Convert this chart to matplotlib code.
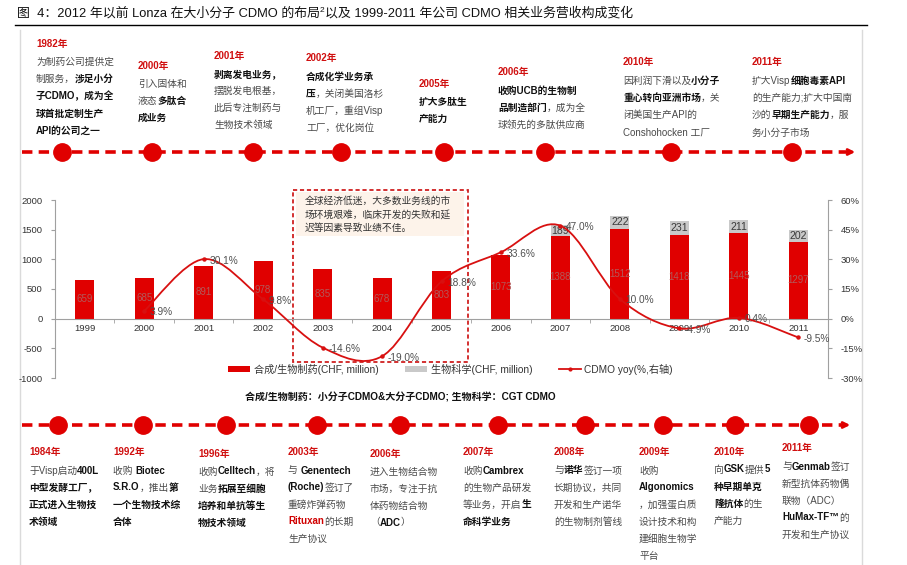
import re
import numpy as np
import matplotlib
matplotlib.use("Agg")
import matplotlib.pyplot as plt
from matplotlib.path import Path
from matplotlib.patches import PathPatch, Patch, Rectangle
from matplotlib.lines import Line2D
from matplotlib.ticker import FuncFormatter

plt.rcParams['font.family'] = ['Liberation Sans', 'Noto Sans CJK SC']
plt.rcParams['lines.scale_dashes'] = False
plt.rcParams['axes.unicode_minus'] = False

# ---------------- data ----------------
years = ['1999', '2000', '2001', '2002', '2003', '2004', '2005',
         '2006', '2007', '2008', '2009', '2010', '2011']
synth_bio = [659, 685, 891, 978, 835, 678, 803, 1073, 1388, 1512, 1418, 1445, 1297]
life_sci = [None, None, None, None, None, None, None, None, 189, 222, 231, 211, 202]
yoy = [None, 3.9, 30.1, 9.8, -14.6, -19.0, 18.8, 33.6, 47.0, 10.0, -4.9, 0.4, -9.5]

left_ticks = [-1000, -500, 0, 500, 1000, 1500, 2000]
right_ticks = [-30, -15, 0, 15, 30, 45, 60]

legend_labels = ['合成/生物制药(CHF, million)', '生物科学(CHF, million)', 'CDMO yoy(%,右轴)']

title_a = '图  4：2012 年以前 Lonza 在大小分子 CDMO 的布局'
title_b = '以及 1999-2011 年公司 CDMO 相关业务营收构成变化'
footnote = '合成/生物制药：小分子CDMO&大分子CDMO; 生物科学：CGT CDMO'
box_text = ['全球经济低迷，大多数业务线的市', '场环境艰难，临床开发的失败和延', '迟等因素导致业绩不佳。']

top_years = ['1982年', '2000年', '2001年', '2002年', '2005年', '2006年', '2010年', '2011年']
top_texts = [
    ['为制药公司提供定', '制服务，**涉足小分**', '**子CDMO，成为全**', '**球首批定制生产**', '**API的公司之一**'],
    ['引入固体和', '液态**多肽合**', '**成业务**'],
    ['**剥离发电业务，**', '摆脱发电根基，', '此后专注制药与', '生物技术领域'],
    ['**合成化学业务承**', '**压**，关闭美国洛杉', '机工厂，重组Visp', '工厂，优化岗位'],
    ['**扩大多肽生**', '**产能力**'],
    ['**收购UCB的生物制**', '**品制造部门**，成为全', '球领先的多肽供应商'],
    ['因利润下滑以及**小分子**', '**重心转向亚洲市场**，关', '闭美国生产API的', 'Conshohocken 工厂'],
    ['扩大Visp**细胞毒素API**', '的生产能力;扩大中国南', '沙的**早期生产能力**，服', '务小分子市场'],
]
bot_years = ['1984年', '1992年', '1996年', '2003年', '2006年', '2007年', '2008年', '2009年', '2010年', '2011年']
bot_texts = [
    ['于Visp启动**400L**', '**中型发酵工厂，**', '**正式进入生物技**', '**术领域**'],
    ['收购 **Biotec**', '**S.R.O**，推出**第**', '**一个生物技术综**', '**合体**'],
    ['收购**Celltech**，将', '业务**拓展至细胞**', '**培养和单抗等生**', '**物技术领域**'],
    ['与 **Genentech**', '**(Roche)**签订了', '重磅炸弹药物', '!!Rituxan!!的长期', '生产协议'],
    ['进入生物结合物', '市场，专注于抗', '体药物结合物', '（**ADC**）'],
    ['收购**Cambrex**', '的生物产品研发', '等业务，开启**生**', '**命科学业务**'],
    ['与**诺华**签订一项', '长期协议，共同', '开发和生产诺华', '的生物制剂管线'],
    ['收购', '**Algonomics**', '，加强蛋白质', '设计技术和构', '建细胞生物学', '平台'],
    ['向**GSK**提供**5**', '**种早期单克**', '**隆抗体**的生', '产能力'],
    ['与**Genmab**签订', '新型抗体药物偶', '联物（ADC）', '**HuMax-TF™**的', '开发和生产协议'],
]

# ---------------- layout (pixels) ----------------
W, H = 907, 565
top_txt_x = [36, 138, 214, 306, 419, 498, 623, 752]
top_txt_y = [43, 65, 55, 58, 83, 72, 62, 62]
top_dot_x = [62, 152, 253, 341, 444, 545, 671, 792]
bot_txt_x = [29, 113, 198, 288, 370, 463, 554, 639, 714, 782]
bot_txt_y = [452, 452, 453, 452, 453, 452, 452, 452, 451, 448]
bot_dot_x = [58, 143, 226, 317, 400, 498, 585, 663, 735, 809]

RED = '#E00000'
fig = plt.figure(figsize=(W / 100, H / 100), dpi=100)
fig.patch.set_facecolor('white')

bg = fig.add_axes([0, 0, 1, 1], zorder=0)
bg.set_xlim(0, W)
bg.set_ylim(H, 0)
bg.axis('off')

renderer = fig.canvas.get_renderer()
styles = {
    'n': dict(color='#4a4a4a', fontweight='normal'),
    'b': dict(color='#111111', fontweight='bold'),
    'r': dict(color='#D00000', fontweight='bold'),
}


def parse(line):
    for p in re.split(r'(\*\*.+?\*\*|!!.+?!!)', line):
        if not p:
            continue
        if p.startswith('**'):
            yield p[2:-2], 'b'
        elif p.startswith('!!'):
            yield p[2:-2], 'r'
        else:
            yield p, 'n'


def rich(x, y, line, size=7.0):
    for txt, st in parse(line):
        t = bg.text(x, y, txt, fontsize=size, ha='left', va='baseline', **styles[st])
        bb = t.get_window_extent(renderer)
        x += bb.width * W / fig.bbox.width
    return x


def event(x, y, year, lines, step=17.2, first=18.3):
    bg.text(x, y + 3.5, year, fontsize=7, fontweight='bold', color='#D01010',
            ha='left', va='baseline')
    for i, ln in enumerate(lines):
        rich(x, y + first + i * step + 3.5, ln)


# title
t1 = bg.text(17, 17, title_a, fontsize=9.3, color='#111', ha='left', va='baseline')
xe = 17 + t1.get_window_extent(renderer).width * W / fig.bbox.width
t2 = bg.text(xe, 12, '2', fontsize=6, color='#111', ha='left', va='baseline')
xe += t2.get_window_extent(renderer).width * W / fig.bbox.width
bg.text(xe, 17, title_b, fontsize=9.3, color='#111', ha='left', va='baseline')
bg.plot([15, 867], [25, 25], color='black', lw=1)

# frame lines
bg.plot([20, 20], [30, H], color='#DADADA', lw=1)
bg.plot([862, 862], [30, H], color='#DADADA', lw=1)

# timelines
for ty, xend, xtip, dots in [(152, 848, 858, top_dot_x), (425, 842, 853, bot_dot_x)]:
    bg.plot([22, xend], [ty, ty], color=RED, lw=2.6, dashes=(7.5, 4.5), solid_capstyle='butt')
    bg.annotate('', xy=(xtip, ty), xytext=(xend - 4, ty),
                arrowprops=dict(arrowstyle='->', color=RED, lw=2, mutation_scale=9))
    bg.plot(dots, [ty] * len(dots), 'o', ms=12.5, color=RED, mec=RED)

for x, y, yr, lines in zip(top_txt_x, top_txt_y, top_years, top_texts):
    event(x, y, yr, lines)
for x, y, yr, lines in zip(bot_txt_x, bot_txt_y, bot_years, bot_texts):
    event(x, y, yr, lines, step=17.0, first=18.0)

# annotation box
bg.add_patch(Rectangle((296, 192), 168, 44, facecolor='#FDF3EA', edgecolor='none'))
bg.add_patch(Rectangle((293, 190), 175, 172, facecolor='none', edgecolor='#D02020',
                       lw=1.3, ls=(0, (3, 2))))
for i, ln in enumerate(box_text):
    bg.text(305, 203.5 + i * 14, ln, fontsize=7, color='#333', ha='left', va='baseline')

# footnote
bg.text(245, 400.5, footnote, fontsize=7.2, fontweight='bold', color='#111', ha='left', va='baseline')

# ---------------- main chart ----------------
ax = fig.add_axes([55 / W, 1 - 378 / H, (828 - 55) / W, 178 / H], zorder=2)
ax.set_facecolor('none')
xs = np.arange(len(years))
sb = np.array(synth_bio, dtype=float)
ls = np.array([np.nan if v is None else v for v in life_sci], dtype=float)
bw = 0.32
ax.bar(xs, sb, width=bw, color=RED, zorder=2)
ax.bar(xs, ls, width=bw, bottom=sb, color='#C9C9C9', zorder=2)
for i in xs:
    ax.text(i, sb[i] / 2, f'{int(sb[i])}', ha='center', va='center', fontsize=7,
            color='#B35858', zorder=3)
    if not np.isnan(ls[i]):
        ax.text(i, sb[i] + ls[i] / 2, f'{int(ls[i])}', ha='center', va='center',
                fontsize=7.6, color='#3a3a3a', zorder=3)

ax.set_xlim(-0.5, len(years) - 0.5)
ax.set_ylim(left_ticks[0], left_ticks[-1])
ax.set_yticks(left_ticks)
for s in ['top', 'right']:
    ax.spines[s].set_visible(False)
ax.spines['left'].set_color('#A0A0A0')
ax.spines['bottom'].set_position(('data', 0))
ax.spines['bottom'].set_color('#A0A0A0')
ax.set_xticks(xs)
ax.set_xticklabels(years)
ax.set_xticks(np.arange(-0.5, len(years)), minor=True)
ax.tick_params(axis='x', which='major', length=0, pad=4, labelsize=6.8, labelcolor='#333')
ax.tick_params(axis='x', which='minor', length=3, color='#A0A0A0', direction='out')
ax.tick_params(axis='y', length=3, color='#A0A0A0', labelsize=6.8, labelcolor='#333', pad=6)

ax2 = ax.twinx()
ax2.set_zorder(3)
ax2.set_facecolor('none')
ax2.set_ylim(right_ticks[0], right_ticks[-1])
ax2.set_yticks(right_ticks)
ax2.yaxis.set_major_formatter(FuncFormatter(lambda v, p: f'{v:.0f}%'))
for s in ['top', 'left', 'bottom']:
    ax2.spines[s].set_visible(False)
ax2.spines['right'].set_color('#A0A0A0')
ax2.tick_params(axis='y', length=3, color='#A0A0A0', labelsize=6.8, labelcolor='#333', pad=6)

# smoothed yoy line (Catmull-Rom -> cubic Bezier through the data points)
px = np.array([i for i, v in enumerate(yoy) if v is not None], dtype=float)
py = np.array([v for v in yoy if v is not None], dtype=float)
P = np.column_stack([px, py])
Pe = np.vstack([P[0], P, P[-1]])
verts = [P[0]]
codes = [Path.MOVETO]
for k in range(len(P) - 1):
    p0, p1, p2, p3 = Pe[k], Pe[k + 1], Pe[k + 2], Pe[k + 3]
    c1 = p1 + (p2 - p0) / 6.0
    c2 = p2 - (p3 - p1) / 6.0
    verts += [c1, c2, p2]
    codes += [Path.CURVE4] * 3
ax2.add_patch(PathPatch(Path(verts, codes), fill=False, edgecolor='#D81010', lw=1.3, zorder=4))
ax2.plot(px, py, 'o', ms=2.2, color='#D81010', zorder=5)
for x, y in zip(px, py):
    ax2.annotate(f'{y:.1f}%', (x, y), xytext=(4, -1), textcoords='offset points',
                 ha='left', va='center', fontsize=7.3, color='#505050', zorder=6)

handles = [Patch(facecolor=RED, edgecolor='none'),
           Patch(facecolor='#C9C9C9', edgecolor='none'),
           Line2D([0], [0], color='#D81010', lw=1.3, marker='o', ms=2)]
fig.legend(handles, legend_labels, ncol=3, loc='center left',
           bbox_to_anchor=(228 / W, 1 - 369 / H), frameon=False, fontsize=7.3,
           handlelength=2.2, handleheight=0.6, handletextpad=0.35, columnspacing=2.6,
           labelcolor='#333', borderaxespad=0, borderpad=0)

fig.savefig('out.png', dpi=100, facecolor='white')
